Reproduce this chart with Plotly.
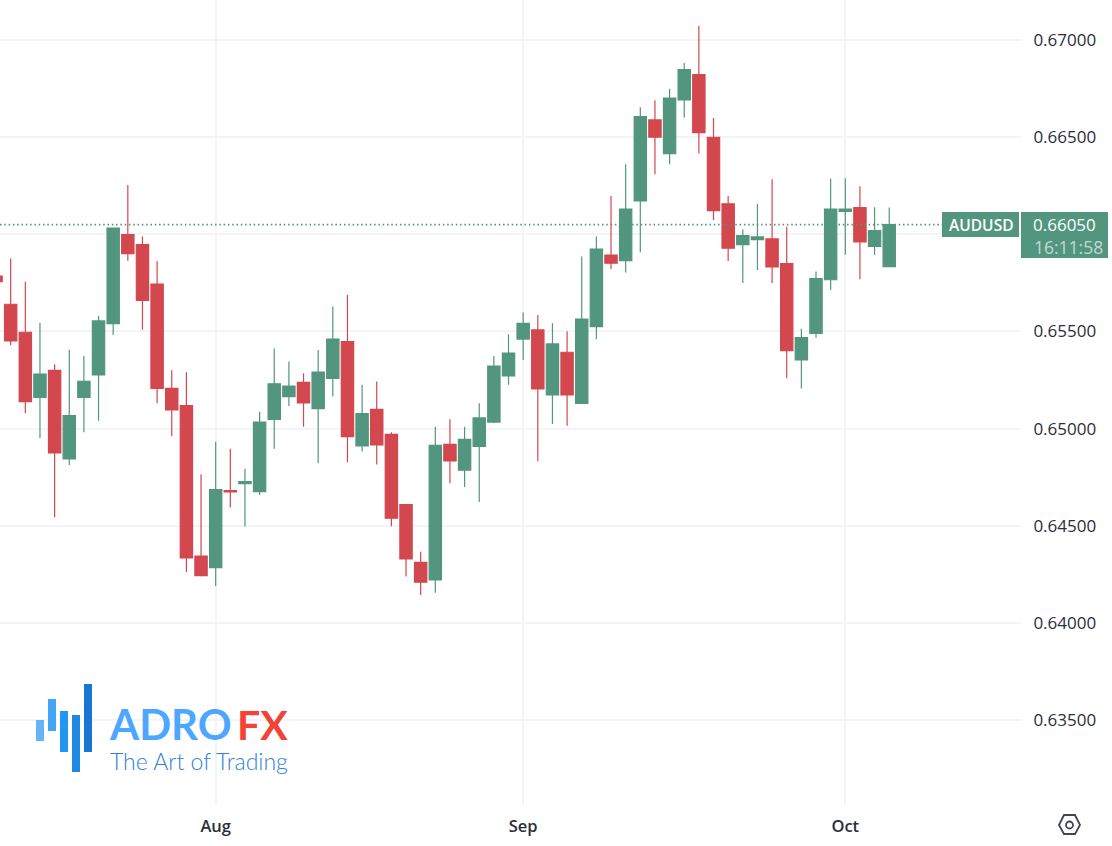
import pandas as pd
import plotly.graph_objects as go

# AUDUSD daily
dates = [d.strftime("%Y-%m-%d") for d in pd.bdate_range("2025-07-11", "2025-10-06")]

opens = [0.65785, 0.65640, 0.65496, 0.65161, 0.65300, 0.64844, 0.65161, 0.65276, 0.65540, 0.65998,
         0.65947, 0.65744, 0.65207, 0.65118, 0.64345, 0.64285, 0.64681, 0.64717, 0.64676, 0.65048,
         0.65165, 0.65238, 0.65103, 0.65259, 0.65448, 0.64911, 0.65099, 0.64971, 0.64609, 0.64312,
         0.64222, 0.64919, 0.64786, 0.64909, 0.65034, 0.65271, 0.65461, 0.65508, 0.65173, 0.65393,
         0.65130, 0.65525, 0.65893, 0.65864, 0.66171, 0.66588, 0.66415, 0.66691, 0.66821, 0.66499,
         0.66157, 0.65947, 0.65972, 0.65976, 0.65849, 0.65353, 0.65490, 0.65766, 0.66118, 0.66137,
         0.65938, 0.65833]
highs = [0.65785, 0.65875, 0.65756, 0.65545, 0.65331, 0.65406, 0.65374, 0.65580, 0.66031, 0.66253,
         0.65988, 0.65863, 0.65300, 0.65290, 0.64765, 0.64933, 0.64897, 0.64794, 0.65087, 0.65412,
         0.65345, 0.65285, 0.65405, 0.65628, 0.65688, 0.65226, 0.65243, 0.64981, 0.64609, 0.64367,
         0.65010, 0.65048, 0.65010, 0.65130, 0.65374, 0.65485, 0.65598, 0.65585, 0.65542, 0.65501,
         0.65885, 0.65988, 0.66197, 0.66360, 0.66653, 0.66689, 0.66749, 0.66881, 0.67071, 0.66598,
         0.66197, 0.66025, 0.66156, 0.66283, 0.66039, 0.65514, 0.65808, 0.66286, 0.66288, 0.66247,
         0.66139, 0.66137]
lows = [0.65756, 0.65429, 0.65079, 0.64952, 0.64544, 0.64813, 0.64981, 0.65041, 0.65482, 0.65864,
        0.65509, 0.65130, 0.64961, 0.64261, 0.64239, 0.64191, 0.64594, 0.64496, 0.64659, 0.64897,
        0.65117, 0.65010, 0.64822, 0.65165, 0.64827, 0.64882, 0.64815, 0.64498, 0.64239, 0.64144,
        0.64156, 0.64719, 0.64700, 0.64623, 0.65029, 0.65226, 0.65353, 0.64832, 0.65024, 0.65015,
        0.65130, 0.65460, 0.65821, 0.65803, 0.65907, 0.66308, 0.66360, 0.66600, 0.66415, 0.66073,
        0.65863, 0.65749, 0.65816, 0.65749, 0.65259, 0.65206, 0.65468, 0.65713, 0.65895, 0.65768,
        0.65893, 0.65833]
closes = [0.65756, 0.65451, 0.65139, 0.65281, 0.64875, 0.65067, 0.65243, 0.65554, 0.66031, 0.65900,
          0.65660, 0.65207, 0.65096, 0.64335, 0.64244, 0.64686, 0.64674, 0.64727, 0.65034, 0.65231,
          0.65219, 0.65132, 0.65291, 0.65460, 0.64959, 0.65077, 0.64916, 0.64539, 0.64330, 0.64210,
          0.64914, 0.64834, 0.64945, 0.65055, 0.65322, 0.65388, 0.65542, 0.65204, 0.65436, 0.65173,
          0.65564, 0.65924, 0.65851, 0.66130, 0.66605, 0.66499, 0.66701, 0.66847, 0.66523, 0.66121,
          0.65928, 0.65993, 0.65986, 0.65832, 0.65401, 0.65468, 0.65772, 0.66130, 0.66130, 0.65960,
          0.66019, 0.66050]

y_ticks = [0.635, 0.64, 0.645, 0.65, 0.655, 0.66, 0.665, 0.67]
# the 0.66000 label sits behind the price tag in the original, so it is left blank
y_labels = ["0.63500", "0.64000", "0.64500", "0.65000", "0.65500", "", "0.66500", "0.67000"]
month_ticks = ["2025-08-01", "2025-09-01", "2025-10-01"]
month_labels = ["Aug", "Sep", "Oct"]

# logo bars: x0, x1, y0, y1 in page pixels
logo_bars = [(36, 44, 720, 741, "#64b5f6"), (48, 56, 699, 731, "#42a5f5"), (60, 68, 711, 752, "#2196f3"),
             (72, 80, 715, 772, "#1e88e5"), (84, 92, 684, 752, "#1976d2")]

GREEN = "#53967f"
RED = "#d3474e"
GRID = "#f3f4f6"
TEXT = "#2a2e39"
FONT = "Open Sans"

W, H = 1112, 846
PLOT_R, PLOT_B = 1021, 805


def px(x):
    return x / PLOT_R


def py(y):
    return 1 - y / PLOT_B


def rect(x0, x1, y0, y1, color):
    return dict(type="rect", xref="paper", yref="paper", x0=px(x0), x1=px(x1), y0=py(y0), y1=py(y1),
                fillcolor=color, line=dict(width=0), layer="above")


def label(x, y, text, size, color, anchor="left", family=FONT, weight=400):
    return dict(xref="paper", yref="paper", x=px(x), y=py(y), text=text, showarrow=False, xanchor=anchor,
                yanchor="middle", font=dict(size=size, color=color, family=family, weight=weight))


fig = go.Figure(go.Candlestick(
    x=dates, open=opens, high=highs, low=lows, close=closes,
    increasing=dict(fillcolor=GREEN, line=dict(color=GREEN, width=1.2)),
    decreasing=dict(fillcolor=RED, line=dict(color=RED, width=1.2)),
    whiskerwidth=0, hoverinfo="skip",
))

shapes = [
    dict(type="line", xref="paper", yref="y", x0=0, x1=px(942), y0=closes[-1], y1=closes[-1],
         line=dict(color=GREEN, width=1.8, dash="1.5px,2.8px"), layer="above"),
    rect(942, 1019, 212, 237, GREEN),
    rect(1021, 1108, 212, 258, GREEN),
]
shapes += [rect(a, b, c, d, col) for a, b, c, d, col in logo_bars]
# settings hexagon bottom right
hexagon = [(1059, 825), (1064, 815), (1075, 815), (1080, 825), (1075, 834), (1064, 834)]
hex_path = "M" + " L".join(f"{px(a)},{py(b)}" for a, b in hexagon) + " Z"
shapes.append(dict(type="path", xref="paper", yref="paper", path=hex_path,
                   line=dict(color="#434651", width=1.8), layer="above"))
shapes.append(dict(type="circle", xref="paper", yref="paper", x0=px(1066), x1=px(1073), y0=py(821.5), y1=py(828.5),
                   line=dict(color="#434651", width=1.8), layer="above"))

annotations = [
    label(981.5, 225, "AUDUSD", 15.5, "#ffffff", "center", weight=600),
    label(1064.5, 225, "0.66050", 17, "#ffffff", "center"),
    label(1068, 247, "16:11:58", 17.5, "rgba(255,255,255,0.65)", "center"),
    label(107, 724, "ADRO", 42, "#4da6ff", family="Lato", weight=700),
    label(235, 724, "FX", 41, "#f44336", family="Lato", weight=700),
    label(108, 761, "The Art of Trading", 23, "#2f80d8", family="Lato", weight=300),
]

fig.update_layout(
    width=W, height=H,
    margin=dict(l=0, r=W - PLOT_R, t=0, b=H - PLOT_B),
    paper_bgcolor="#ffffff", plot_bgcolor="#ffffff",
    showlegend=False, boxgap=0.16, boxgroupgap=0,
    shapes=shapes, annotations=annotations,
    font=dict(family=FONT, color=TEXT),
    xaxis=dict(type="category", rangeslider=dict(visible=False), range=[0.27, 70.0],
               tickmode="array", tickvals=month_ticks, ticktext=month_labels,
               showgrid=True, gridcolor=GRID, gridwidth=1.5, zeroline=False, showline=False,
               ticks="outside", ticklen=6, tickcolor="rgba(0,0,0,0)", tickfont=dict(size=16.5, color=TEXT, weight=600)),
    yaxis=dict(side="right", range=[0.63064, 0.67205], tickmode="array", tickvals=y_ticks, ticktext=y_labels,
               showgrid=True, gridcolor=GRID, gridwidth=1.5, zeroline=False, showline=False,
               ticks="outside", ticklen=8, tickcolor="rgba(0,0,0,0)", tickfont=dict(size=17, color=TEXT)),
)

fig.write_html("out.html", post_script="document.body.style.margin='0';", config=dict(displayModeBar=False))
